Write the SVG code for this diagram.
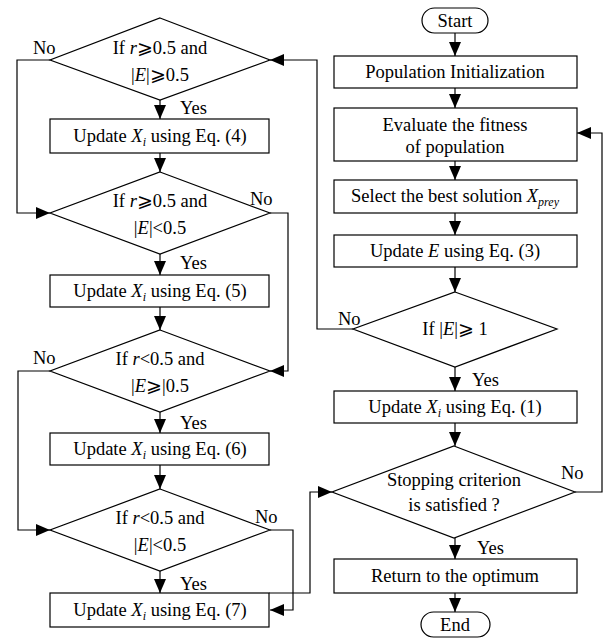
<svg xmlns="http://www.w3.org/2000/svg" width="605" height="638" viewBox="0 0 605 638">
<style>
.s{fill:#fff;stroke:#000;stroke-width:1.2}
.c{fill:none;stroke:#000;stroke-width:1.2}
.t{font-family:"Liberation Serif","Times New Roman","DejaVu Serif",serif;font-size:18.5px;text-anchor:middle;fill:#000}
.l{font-family:"Liberation Serif","Times New Roman","DejaVu Serif",serif;font-size:18.5px;fill:#000}
.i{font-style:italic}
.sub{font-style:italic;font-size:12px}
</style>
<defs>
<marker id="a" markerUnits="userSpaceOnUse" markerWidth="14" markerHeight="12" refX="14" refY="6" orient="auto">
<path d="M0,0 L14,6 L0,12 z" fill="#000"/>
</marker>
</defs>
<rect width="605" height="638" fill="#fff"/>
<g id="connectors">
<!-- right column -->
<path class="c" d="M455,33 V56" marker-end="url(#a)"/>
<path class="c" d="M455,88 V108" marker-end="url(#a)"/>
<path class="c" d="M455,161 V180" marker-end="url(#a)"/>
<path class="c" d="M455,213 V235" marker-end="url(#a)"/>
<path class="c" d="M455,267 V292" marker-end="url(#a)"/>
<path class="c" d="M455,367 V391" marker-end="url(#a)"/>
<path class="c" d="M455,423 V446" marker-end="url(#a)"/>
<path class="c" d="M455,538 V559" marker-end="url(#a)"/>
<path class="c" d="M455,593 V612" marker-end="url(#a)"/>
<path class="c" d="M575,492 H602 V133 H577" marker-end="url(#a)"/>
<path class="c" d="M353,329 H317 V60 H270" marker-end="url(#a)"/>
<path class="c" d="M269,593 H310 V492 H332" marker-end="url(#a)"/>
<!-- left column -->
<path class="c" d="M160,100 V119" marker-end="url(#a)"/>
<path class="c" d="M160,153 V172" marker-end="url(#a)"/>
<path class="c" d="M160,254 V275" marker-end="url(#a)"/>
<path class="c" d="M160,307 V330" marker-end="url(#a)"/>
<path class="c" d="M160,412 V433" marker-end="url(#a)"/>
<path class="c" d="M160,465 V489" marker-end="url(#a)"/>
<path class="c" d="M160,571 V593" marker-end="url(#a)"/>
<path class="c" d="M50,60 H17 V213 H50" marker-end="url(#a)"/>
<path class="c" d="M270,213 H288 V371 H270" marker-end="url(#a)"/>
<path class="c" d="M50,371 H18 V530 H50" marker-end="url(#a)"/>
<path class="c" d="M270,530 H293 V610 H270" marker-end="url(#a)"/>
</g>
<g id="labels">
<text class="l" x="33" y="54">No</text>
<text class="l" x="250" y="205">No</text>
<text class="l" x="33" y="364">No</text>
<text class="l" x="255" y="523">No</text>
<text class="l" x="338" y="325">No</text>
<text class="l" x="561" y="479">No</text>
<text class="l" x="180" y="114">Yes</text>
<text class="l" x="180" y="269">Yes</text>
<text class="l" x="180" y="429">Yes</text>
<text class="l" x="180" y="590">Yes</text>
<text class="l" x="472" y="386">Yes</text>
<text class="l" x="477" y="554">Yes</text>
</g>
<g id="start">
<rect class="s" x="422" y="8" width="66" height="25" rx="12.5"/>
<text class="t" x="455" y="27">Start</text>
</g>
<g id="init">
<rect class="s" x="334" y="56" width="243" height="32"/>
<text class="t" x="455" y="78">Population Initialization</text>
</g>
<g id="evaluate">
<rect class="s" x="334" y="108" width="243" height="53"/>
<text class="t" x="455" y="131">Evaluate the fitness</text>
<text class="t" x="455" y="153">of population</text>
</g>
<g id="select">
<rect class="s" x="334" y="180" width="243" height="33"/>
<text class="t" x="455" y="202">Select the best solution <tspan class="i">X</tspan><tspan class="sub" dy="4">prey</tspan></text>
</g>
<g id="updateE">
<rect class="s" x="334" y="235" width="243" height="32"/>
<text class="t" x="455" y="257">Update <tspan class="i">E</tspan> using Eq. (3)</text>
</g>
<g id="checkE">
<polygon class="s" points="455,292 557,329 455,367 353,329"/>
<text class="t" x="455" y="335">If |<tspan class="i">E</tspan>|⩾ 1</text>
</g>
<g id="update1">
<rect class="s" x="334" y="391" width="243" height="32"/>
<text class="t" x="455" y="413">Update <tspan class="i">X</tspan><tspan class="sub" dy="4">i</tspan><tspan dy="-4"> using Eq. (1)</tspan></text>
</g>
<g id="stop">
<polygon class="s" points="454,446 575,492 454,538 332,492"/>
<text class="t" x="454" y="486">Stopping criterion</text>
<text class="t" x="454" y="511">is satisfied ?</text>
</g>
<g id="return">
<rect class="s" x="334" y="559" width="243" height="34"/>
<text class="t" x="455" y="582">Return to the optimum</text>
</g>
<g id="end">
<rect class="s" x="421" y="612" width="69" height="25" rx="12.5"/>
<text class="t" x="455" y="631">End</text>
</g>
<g id="cond1">
<polygon class="s" points="160,18 270,60 160,100 50,60"/>
<text class="t" x="160" y="54">If <tspan class="i">r</tspan>⩾0.5 and</text>
<text class="t" x="160" y="81">|<tspan class="i">E</tspan>|⩾0.5</text>
</g>
<g id="update4">
<rect class="s" x="50" y="119" width="219" height="34"/>
<text class="t" x="160" y="142">Update <tspan class="i">X</tspan><tspan class="sub" dy="4">i</tspan><tspan dy="-4"> using Eq. (4)</tspan></text>
</g>
<g id="cond2">
<polygon class="s" points="160,172 270,213 160,254 50,213"/>
<text class="t" x="160" y="207">If <tspan class="i">r</tspan>⩾0.5 and</text>
<text class="t" x="160" y="234">|<tspan class="i">E</tspan>|&lt;0.5</text>
</g>
<g id="update5">
<rect class="s" x="50" y="275" width="219" height="32"/>
<text class="t" x="160" y="297">Update <tspan class="i">X</tspan><tspan class="sub" dy="4">i</tspan><tspan dy="-4"> using Eq. (5)</tspan></text>
</g>
<g id="cond3">
<polygon class="s" points="160,330 270,371 160,412 50,371"/>
<text class="t" x="160" y="365">If <tspan class="i">r</tspan>&lt;0.5 and</text>
<text class="t" x="160" y="392">|<tspan class="i">E</tspan>⩾|0.5</text>
</g>
<g id="update6">
<rect class="s" x="50" y="433" width="219" height="32"/>
<text class="t" x="160" y="455">Update <tspan class="i">X</tspan><tspan class="sub" dy="4">i</tspan><tspan dy="-4"> using Eq. (6)</tspan></text>
</g>
<g id="cond4">
<polygon class="s" points="160,489 270,530 160,571 50,530"/>
<text class="t" x="160" y="524">If <tspan class="i">r</tspan>&lt;0.5 and</text>
<text class="t" x="160" y="551">|<tspan class="i">E</tspan>|&lt;0.5</text>
</g>
<g id="update7">
<rect class="s" x="50" y="593" width="219" height="34"/>
<text class="t" x="160" y="616">Update <tspan class="i">X</tspan><tspan class="sub" dy="4">i</tspan><tspan dy="-4"> using Eq. (7)</tspan></text>
</g>
</svg>
